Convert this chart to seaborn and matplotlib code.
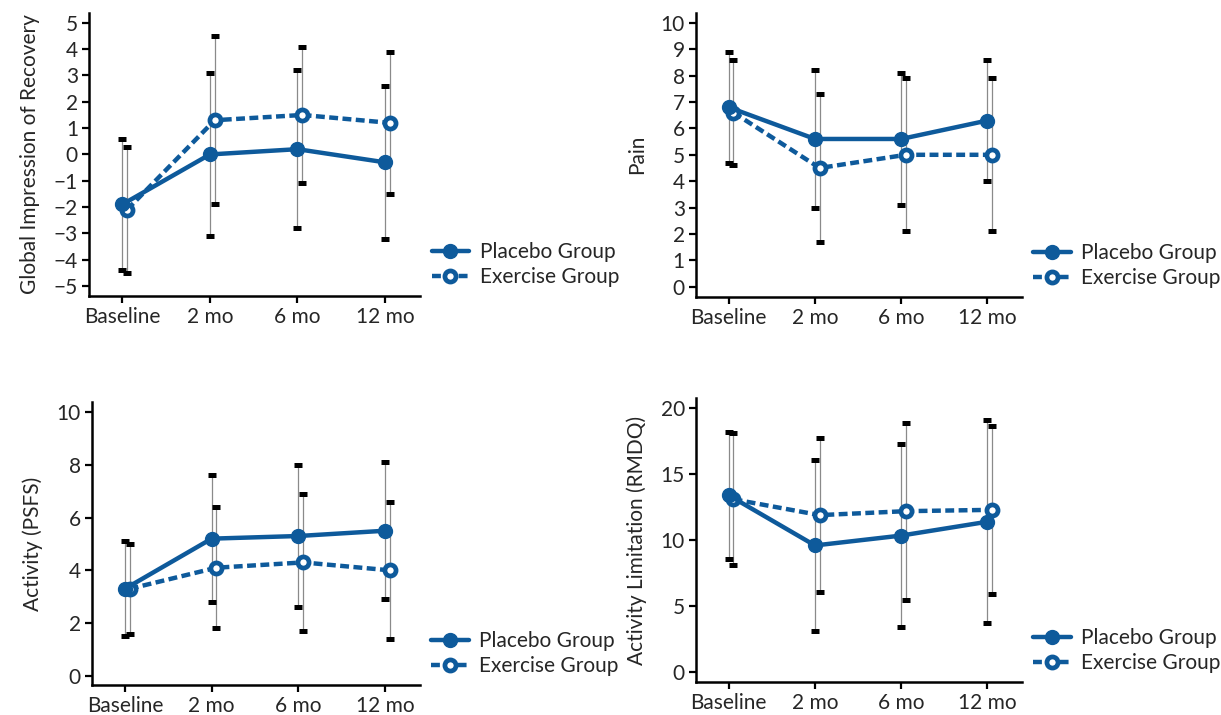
import numpy as np
import pandas as pd
import matplotlib
matplotlib.use("Agg")
import matplotlib.pyplot as plt
import seaborn as sns

# time points
timepoints = ["Baseline", "2 mo", "6 mo", "12 mo"]

# Global Impression of Recovery: means and SDs
gir_placebo = [-1.9, 0.0, 0.2, -0.3]
gir_placebo_sd = [2.5, 3.1, 3.0, 2.9]
gir_exercise = [-2.1, 1.3, 1.5, 1.2]
gir_exercise_sd = [2.4, 3.2, 2.6, 2.7]

# Pain
pain_placebo = [6.8, 5.6, 5.6, 6.3]
pain_placebo_sd = [2.1, 2.6, 2.5, 2.3]
pain_exercise = [6.6, 4.5, 5.0, 5.0]
pain_exercise_sd = [2.0, 2.8, 2.9, 2.9]

# Activity (PSFS)
psfs_placebo = [3.3, 5.2, 5.3, 5.5]
psfs_placebo_sd = [1.8, 2.4, 2.7, 2.6]
psfs_exercise = [3.3, 4.1, 4.3, 4.0]
psfs_exercise_sd = [1.7, 2.3, 2.6, 2.6]

# Activity limitation (RMDQ)
rmdq_placebo = [13.4, 9.6, 10.35, 11.4]
rmdq_placebo_sd = [4.8, 6.5, 6.95, 7.7]
rmdq_exercise = [13.1, 11.9, 12.2, 12.3]
rmdq_exercise_sd = [5.0, 5.85, 6.7, 6.35]

blue = "#0e5a9b"
fs = 15

sns.set_style("ticks")
plt.rcParams["font.family"] = ["Lato", "DejaVu Sans"]
plt.rcParams["axes.unicode_minus"] = True

fig = plt.figure(figsize=(12.21, 7.15), dpi=100)

panels = [
    # rect, ylabel, placebo, placebo sd, exercise, exercise sd, ylim, yticks
    ([0.0729, 0.586, 0.2711, 0.396], "Global Impression of Recovery",
     gir_placebo, gir_placebo_sd, gir_exercise, gir_exercise_sd,
     (-5.38, 5.38), np.arange(-5, 6, 1)),
    ([0.570, 0.585, 0.267, 0.397], "Pain",
     pain_placebo, pain_placebo_sd, pain_exercise, pain_exercise_sd,
     (-0.38, 10.38), np.arange(0, 11, 1)),
    ([0.0753, 0.042, 0.2686, 0.396], "Activity (PSFS)",
     psfs_placebo, psfs_placebo_sd, psfs_exercise, psfs_exercise_sd,
     (-0.34, 10.38), np.arange(0, 11, 2)),
    ([0.570, 0.046, 0.267, 0.397], "Activity Limitation (RMDQ)",
     rmdq_placebo, rmdq_placebo_sd, rmdq_exercise, rmdq_exercise_sd,
     (-0.76, 20.76), np.arange(0, 21, 5)),
]

x = np.arange(len(timepoints))
offset = 0.055

for rect, ylabel, plc, plc_sd, exc, exc_sd, ylim, yticks in panels:
    ax = fig.add_axes(rect)

    # error bars (SD), thin grey line with small black caps
    for xs, m, sd in [(x, plc, plc_sd), (x + offset, exc, exc_sd)]:
        ax.errorbar(xs, m, yerr=sd, fmt="none", ecolor="#8a8a8a", elinewidth=0.9,
                    capsize=0, zorder=1)
        for ends in [np.array(m) + np.array(sd), np.array(m) - np.array(sd)]:
            ax.plot(xs, ends, linestyle="none", marker="_", color="black",
                    markersize=5.5, markeredgewidth=3.6, zorder=2)

    df_p = pd.DataFrame({"x": x, "y": plc})
    df_e = pd.DataFrame({"x": x + offset, "y": exc})

    sns.lineplot(data=df_e, x="x", y="y", ax=ax, color=blue, linewidth=3.2,
                 linestyle=(0, (2.0, 1.0)), marker="o", markersize=8,
                 markerfacecolor="white", markeredgecolor=blue,
                 markeredgewidth=3.4, label="Exercise Group", zorder=3)
    sns.lineplot(data=df_p, x="x", y="y", ax=ax, color=blue, linewidth=3.2,
                 marker="o", markersize=10, markerfacecolor=blue,
                 markeredgecolor=blue, markeredgewidth=1,
                 label="Placebo Group", zorder=4)

    ax.set_xlim(-0.38, 3.4)
    ax.set_ylim(*ylim)
    ax.set_xticks(x)
    ax.set_xticklabels(timepoints)
    ax.set_yticks(yticks)
    ax.set_xlabel("")
    ax.set_ylabel(ylabel, fontsize=fs, labelpad=10)
    ax.tick_params(axis="both", labelsize=fs, length=5, width=1.6,
                   color="black", direction="out", pad=3)
    for s in ["left", "bottom"]:
        ax.spines[s].set_linewidth(1.8)
        ax.spines[s].set_color("black")
    sns.despine(ax=ax)

    handles, labels = ax.get_legend_handles_labels()
    order = [labels.index("Placebo Group"), labels.index("Exercise Group")]
    ax.legend([handles[i] for i in order], [labels[i] for i in order],
              loc="center left", bbox_to_anchor=(1.035, 0.11), frameon=False,
              fontsize=fs, handlelength=1.8, handletextpad=0.5,
              labelspacing=0.25, borderaxespad=0, borderpad=0)

fig.savefig("out.png", dpi=100)
